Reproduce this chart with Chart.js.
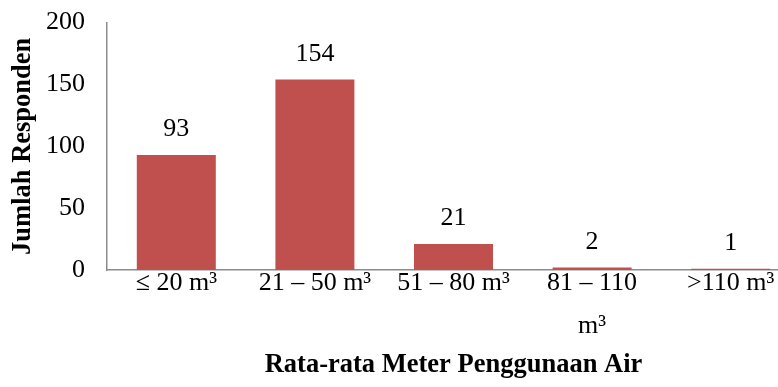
<!DOCTYPE html>
<html>
<head>
<meta charset="utf-8">
<script src="https://cdn.jsdelivr.net/npm/chart.js@4.4.1/dist/chart.umd.min.js"></script>
<style>
  html, body { margin: 0; padding: 0; background: #fff; overflow: hidden; }
  #wrap { width: 800px; height: 387px; overflow: hidden; }
  #chart { display: block; margin-top: -15px; }
</style>
</head>
<body>
<div id="wrap"><canvas id="chart" width="800" height="402"></canvas></div>
<script>
const categories = ["\u2264 20 m\u00b3", "21 \u2013 50 m\u00b3", "51 \u2013 80 m\u00b3", ["81 \u2013 110", "m\u00b3"], ">110 m\u00b3"];
const responden = [93, 154, 21, 2, 1];
const yTicks = [0, 50, 100, 150, 200];

const serif = "'Liberation Serif', 'Times New Roman', serif";

// label angka di atas batang
const valueLabels = {
    id: "valueLabels",
    afterDatasetsDraw(chart) {
        const ctx = chart.ctx;
        const meta = chart.getDatasetMeta(0);
        ctx.save();
        ctx.font = "26px " + serif;
        ctx.fillStyle = "#000";
        ctx.textAlign = "center";
        ctx.textBaseline = "alphabetic";
        meta.data.forEach((bar, i) => {
            ctx.fillText(responden[i], bar.x, bar.y - 19);
        });
        ctx.restore();
    }
};

new Chart(document.getElementById("chart"), {
    type: "bar",
    data: {
        labels: categories,
        datasets: [{
            data: responden,
            backgroundColor: "#C0504D",
            categoryPercentage: 1,
            barPercentage: 0.57
        }]
    },
    options: {
        responsive: false,
        animation: false,
        events: [],
        layout: { padding: { top: 6, left: 0, right: 0, bottom: 0 } },
        plugins: { legend: { display: false }, tooltip: { enabled: false } },
        scales: {
            x: {
                grid: { display: false, drawTicks: false },
                border: { color: "#8c8c8c", width: 1.5 },
                ticks: {
                    color: "#000",
                    font: { family: serif, size: 26, lineHeight: 1.65 },
                    padding: -8,
                    maxRotation: 0,
                    autoSkip: false
                },
                title: {
                    display: true,
                    text: "Rata-rata Meter Penggunaan Air",
                    color: "#000",
                    font: { family: serif, size: 26.5, weight: "bold" },
                    padding: { top: 0, bottom: 6 }
                },
                afterFit(scale) { scale.height = 117; }
            },
            y: {
                min: 0,
                max: 200,
                afterBuildTicks(scale) { scale.ticks = yTicks.map(v => ({ value: v })); },
                grid: { display: false, drawTicks: false },
                border: { color: "#8c8c8c", width: 1.5 },
                ticks: {
                    color: "#000",
                    font: { family: serif, size: 26 },
                    padding: 22
                },
                title: {
                    display: true,
                    text: "Jumlah Responden",
                    color: "#000",
                    font: { family: serif, size: 26.5, weight: "bold" },
                    padding: { top: 7, bottom: 0 }
                },
                afterFit(scale) { scale.width = 107; }
            }
        }
    },
    plugins: [valueLabels]
});
</script>
</body>
</html>
